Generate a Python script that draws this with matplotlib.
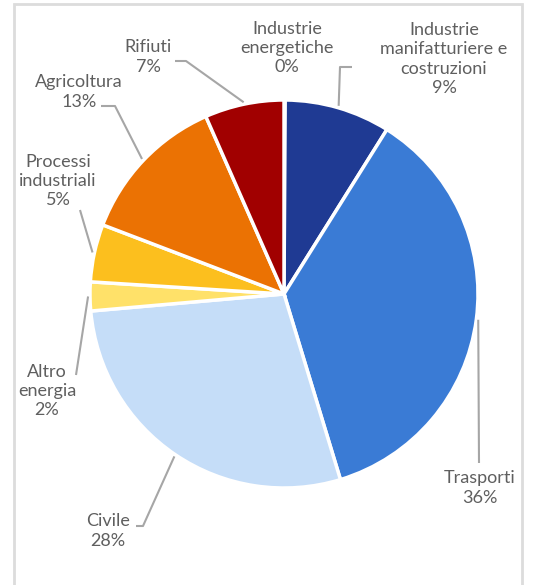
import numpy as np
import matplotlib
matplotlib.use("Agg")
import matplotlib.pyplot as plt
from matplotlib.patches import Rectangle

# ---- data (clockwise from 12 o'clock) ----
sectors = ["Industrie\nenergetiche", "Industrie\nmanifatturiere e\ncostruzioni",
           "Trasporti", "Civile", "Altro\nenergia", "Processi\nindustriali",
           "Agricoltura", "Rifiuti"]
shares = [0.1, 8.8, 36.4, 28.3, 2.4, 4.8, 12.6, 6.6]
colors = ["#1f3a93", "#1f3a93", "#3a7bd5", "#c5ddf8", "#ffe169",
          "#fcbf1e", "#eb7203", "#a10000"]

W, H = 533, 585
CX, CY, R = 284, 294, 194  # pie centre / radius in pixels


def d(px, py):
    # pixel position -> data coords of the pie axes
    return (px - CX) / R, (CY - py) / R


plt.rcParams['font.family'] = ['Lato', 'DejaVu Sans']
fig = plt.figure(figsize=(W / 100, H / 100), dpi=100)
fig.patch.set_facecolor("white")

# light grey frame
fig.add_artist(Rectangle((14 / W, -0.05), (522 - 14) / W, 1.05 - 4 / H,
                         transform=fig.transFigure, fill=False,
                         edgecolor="#dcdcdc", linewidth=2))

ax = fig.add_axes([(CX - R) / W, (H - CY - R) / H, 2 * R / W, 2 * R / H])
wedges, _ = ax.pie(shares, colors=colors, startangle=90, counterclock=False,
                   radius=1, wedgeprops=dict(edgecolor="white", linewidth=2.5))
ax.set_xlim(-1, 1)
ax.set_ylim(-1, 1)
ax.axis("off")

# label centres and leader elbows (pixels); None = no leader
label_pos = [(287, 48), (444, 59), (480, 488), (108, 531), (47, 391),
             (58, 181), (79, 92), (148, 57)]
leader_start = [None, [(352, 67), (340, 67)], [(479, 463)],
                [(136, 526), (143, 526)], [(76, 375)], [(80, 210)],
                [(101, 106), (115, 106)], [(175, 61), (186, 61)]]

for w, name, val, pos, lead in zip(wedges, sectors, shares, label_pos, leader_start):
    x, y = d(*pos)
    ax.text(x, y, f"{name}\n{round(val)}%", ha="center", va="center",
            fontsize=13, color="#5f5f5f", linespacing=1.25, clip_on=False)
    if lead is None:
        continue
    mid = np.deg2rad((w.theta1 + w.theta2) / 2)
    pts = [d(*p) for p in lead] + [(1.01 * np.cos(mid), 1.01 * np.sin(mid))]
    xs, ys = zip(*pts)
    ax.plot(xs, ys, color="#a6a6a6", linewidth=1.5, clip_on=False,
            solid_capstyle="butt")

fig.savefig("out.png", dpi=100)
